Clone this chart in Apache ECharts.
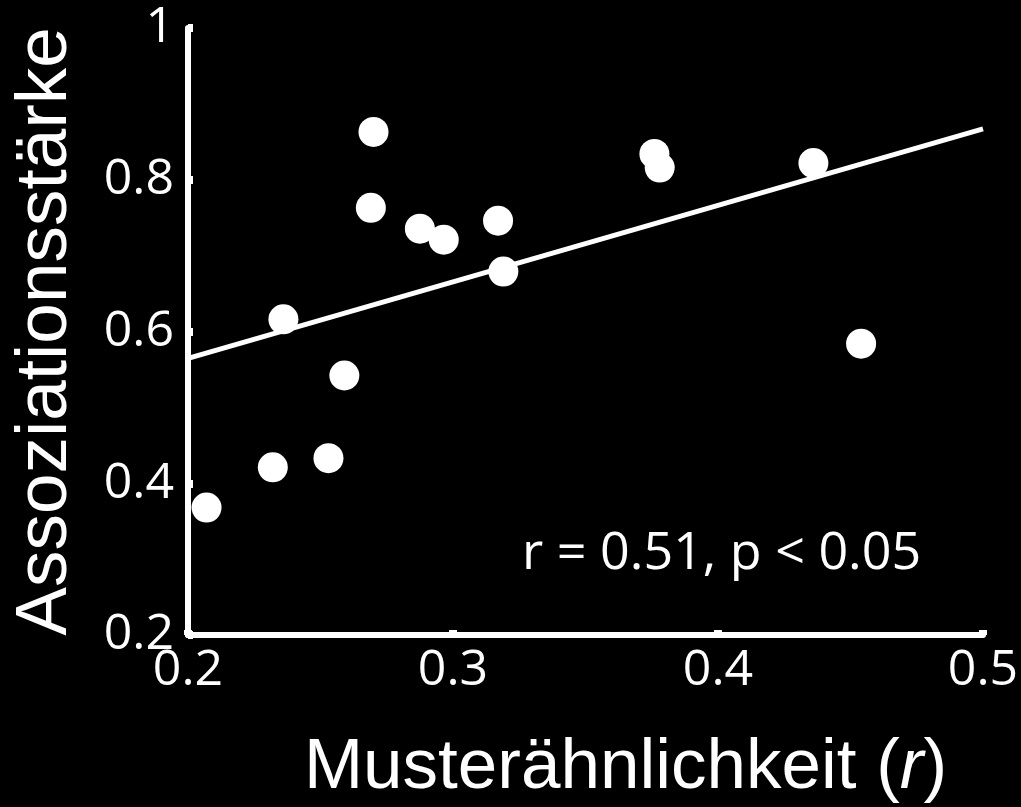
<!DOCTYPE html>
<html>
<head>
<meta charset="utf-8">
<script src="https://cdn.jsdelivr.net/npm/echarts@6/dist/echarts.min.js"></script>
<style>
html,body{margin:0;padding:0;background:#000;}
#chart{width:1021px;height:807px;}
</style>
</head>
<body>
<div id="chart"></div>
<script>
// Data
var xValues = [0.207, 0.232, 0.236, 0.253, 0.259, 0.269, 0.270, 0.2875, 0.2965, 0.317, 0.319, 0.376, 0.378, 0.436, 0.454];
var yValues = [0.368, 0.421, 0.616, 0.433, 0.542, 0.763, 0.863, 0.7355, 0.721, 0.746, 0.679, 0.834, 0.816, 0.822, 0.584];
var fitX = [0.2, 0.5];
var fitY = [0.5645, 0.867];
var xTickLabels = {'0.2': '0.2', '0.3': '0.3', '0.4': '0.4', '0.5': '0.5'};
var yTickLabels = {'0.2': '0.2', '0.4': '0.4', '0.6': '0.6', '0.8': '0.8', '1': '1'};
var xTitle = 'Musterähnlichkeit';
var xTitleItalic = 'r';
var yTitle = 'Assoziationsstärke';
var annotation = 'r = 0.51, p < 0.05';

var points = xValues.map(function (x, i) { return [x, yValues[i]]; });
var fitLine = fitX.map(function (x, i) { return [x, fitY[i]]; });

function key(v) { return String(Math.round(v * 10) / 10); }

var chart = echarts.init(document.getElementById('chart'));
chart.setOption({
  backgroundColor: '#000',
  animation: false,
  grid: { left: 188, right: 38, top: 28, bottom: 172, containLabel: false, outerBoundsMode: 'none' },
  xAxis: {
    type: 'value', min: 0.2, max: 0.5, interval: 0.1,
    axisLine: { lineStyle: { color: '#fff', width: 6 } },
    axisTick: { show: true, inside: true, length: 5, lineStyle: { color: '#fff', width: 8 } },
    splitLine: { show: false },
    axisLabel: {
      color: '#fff', fontFamily: 'Open Sans', fontSize: 50, margin: 11,
      formatter: function (v) { return xTickLabels[key(v)] || ''; }
    },
    name: xTitle + ' ({i|' + xTitleItalic + '})',
    nameLocation: 'middle', nameGap: 98,
    nameTextStyle: {
      color: '#fff', fontFamily: 'Liberation Sans', fontSize: 71, padding: [0, 0, 0, 80],
      rich: { i: { color: '#fff', fontFamily: 'Liberation Sans', fontSize: 71, fontStyle: 'italic' } }
    }
  },
  yAxis: {
    type: 'value', min: 0.2, max: 1, interval: 0.2,
    axisLine: { lineStyle: { color: '#fff', width: 6 } },
    axisTick: { show: true, inside: true, length: 5, lineStyle: { color: '#fff', width: 8 } },
    splitLine: { show: false },
    axisLabel: {
      color: '#fff', fontFamily: 'Open Sans', fontSize: 50, margin: 14,
      formatter: function (v) { return yTickLabels[key(v)] || ''; }
    },
    name: yTitle,
    nameLocation: 'middle', nameGap: 106, nameRotate: 90,
    nameTextStyle: { color: '#fff', fontFamily: 'Liberation Sans', fontSize: 73 }
  },
  graphic: [{
    type: 'text', left: 522, top: 528,
    style: { text: annotation, fill: '#fff', font: '52px "Open Sans"' }
  }],
  series: [
    {
      type: 'line', data: fitLine, symbol: 'none',
      lineStyle: { color: '#fff', width: 5 }, z: 2
    },
    {
      type: 'scatter', data: points, symbol: 'circle', symbolSize: 30,
      itemStyle: { color: '#fff', opacity: 1 }, z: 3
    }
  ]
});
</script>
</body>
</html>
